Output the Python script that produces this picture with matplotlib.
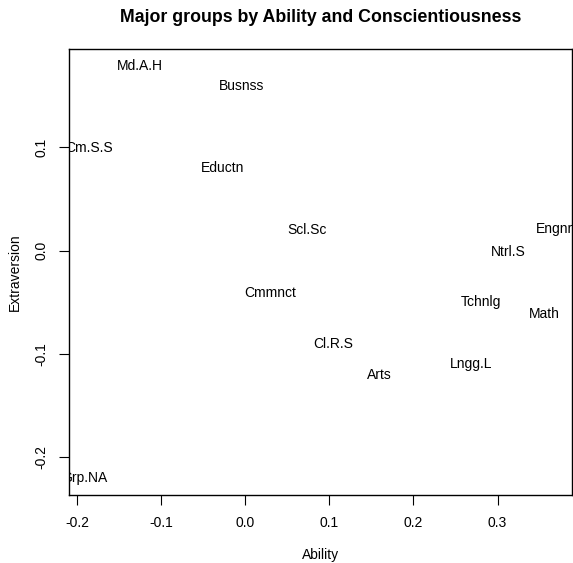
import matplotlib
matplotlib.use("Agg")
import matplotlib.pyplot as plt

plt.rcParams["font.family"] = ["Liberation Sans", "DejaVu Sans"]

# Label positions (Ability, Extraversion)
groups = ["Md.A.H", "Busnss", "Cm.S.S", "Eductn", "Scl.Sc", "Engnrr", "Ntrl.S",
          "Tchnlg", "Math", "Cmmnct", "Cl.R.S", "Arts", "Lngg.L", "Grp.NA"]
ability = [-0.125, -0.005, -0.186, -0.027, 0.073, 0.371, 0.313,
           0.280, 0.356, 0.029, 0.105, 0.159, 0.268, -0.192]
extraversion = [0.179, 0.159, 0.099, 0.080, 0.020, 0.021, -0.001,
                -0.050, -0.061, -0.041, -0.090, -0.120, -0.110, -0.220]

xticks = [-0.2, -0.1, 0.0, 0.1, 0.2, 0.3]
yticks = [-0.2, -0.1, 0.0, 0.1]

fig = plt.figure(figsize=(5.73, 5.63), dpi=100)
ax = fig.add_axes([69 / 573, 1 - 495 / 563, (572 - 69) / 573, (495 - 49) / 563])

for g, a, e in zip(groups, ability, extraversion):
    ax.text(a, e, g, ha="center", va="center", fontsize=10, clip_on=True)

ax.set_xlim(-0.2099, 0.3886)
ax.set_ylim(-0.2366, 0.1952)
ax.set_xticks(xticks)
ax.set_xticklabels([f"{t:.1f}" for t in xticks])
ax.set_yticks(yticks)
ax.set_yticklabels([f"{t:.1f}" for t in yticks], rotation=90, va="center")
ax.tick_params(direction="out", length=7, width=0.8, labelsize=10, pad=8)
for s in ax.spines.values():
    s.set_linewidth(1.0)

ax.set_xlabel("Ability", fontsize=10, labelpad=13)
ax.set_ylabel("Extraversion", fontsize=10, labelpad=9)
fig.text(0.5 * (69 + 572) / 573, 1 - 18 / 563,
         "Major groups by Ability and Conscientiousness",
         ha="center", va="center", fontsize=12.8, fontweight="bold")

fig.savefig("out.png", dpi=100)
